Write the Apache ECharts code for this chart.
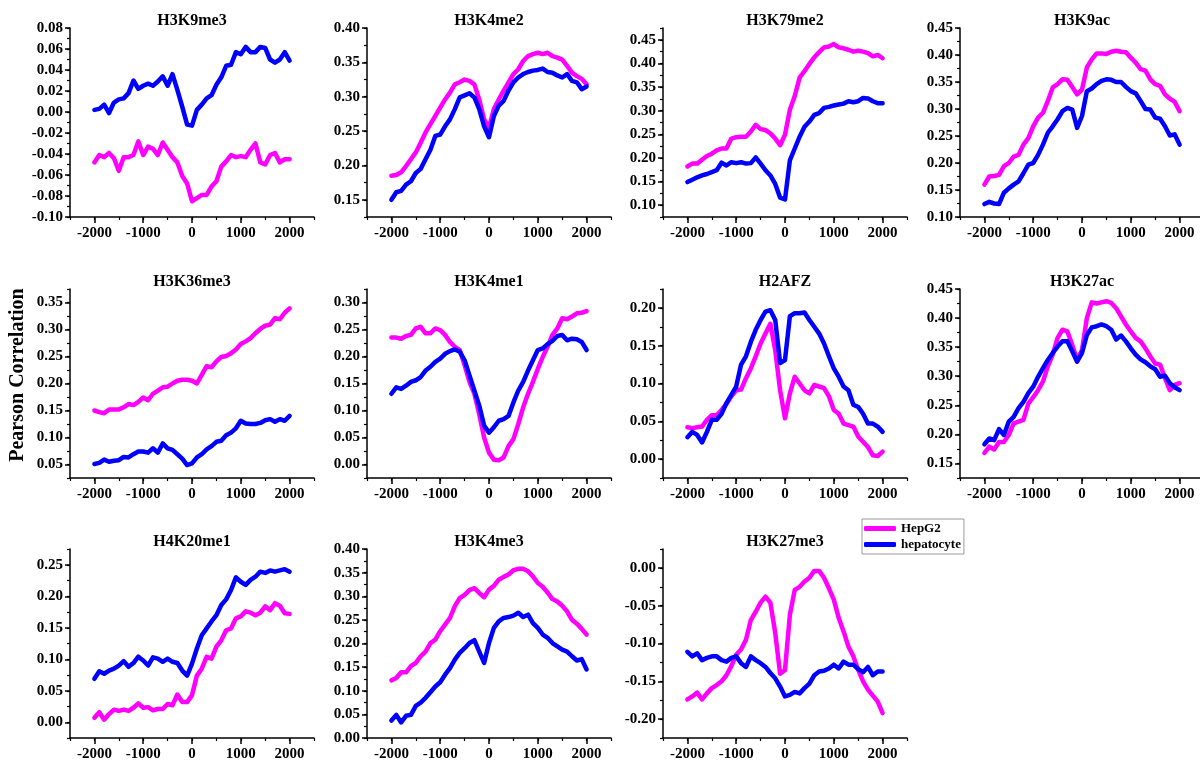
<!DOCTYPE html>
<html>
<head>
<meta charset="utf-8">
<title>Pearson Correlation profiles</title>
<script src="https://cdn.jsdelivr.net/npm/echarts@6/dist/echarts.min.js"></script>
<style>
  html, body { margin: 0; padding: 0; background: #fff; }
  #chart { width: 1200px; height: 760px; }
</style>
</head>
<body>
<div id="chart"></div>
<script>
// distance to TSS (bp)
const xs = [-2000,-1900,-1800,-1700,-1600,-1500,-1400,-1300,-1200,-1100,-1000,-900,-800,-700,-600,-500,-400,-300,-200,-100,
  0,100,200,300,400,500,600,700,800,900,1000,1100,1200,1300,1400,1500,1600,1700,1800,1900,2000]

const panelNames = ['H3K9me3','H3K4me2','H3K79me2','H3K9ac','H3K36me3','H3K4me1','H2AFZ','H3K27ac','H4K20me1','H3K4me3','H3K27me3']
const yMins = [-0.10, 0.125, 0.075, 0.10, 0.025, -0.025, -0.025, 0.125, -0.025, 0.00, -0.225]
const yMaxs = [0.08, 0.40, 0.475, 0.45, 0.375, 0.325, 0.225, 0.45, 0.275, 0.40, 0.025]
const yMajorSteps = [0.02, 0.05, 0.05, 0.05, 0.05, 0.05, 0.05, 0.05, 0.05, 0.05, 0.05]
const yMinorSteps = [0.01, 0.025, 0.025, 0.025, 0.025, 0.025, 0.025, 0.025, 0.025, 0.025, 0.025]
const xTickLabels = [-2000, -1000, 0, 1000, 2000]

// HepG2
const hepg2_H3K9me3 = [-0.048,-0.041,-0.043,-0.039,-0.044,-0.056,-0.043,-0.043,-0.041,-0.028,-0.041,-0.033,-0.035,-0.041,-0.029,-0.036,-0.043,-0.048,-0.061,-0.068,
  -0.085,-0.082,-0.079,-0.079,-0.071,-0.066,-0.052,-0.047,-0.041,-0.043,-0.042,-0.043,-0.036,-0.030,-0.048,-0.050,-0.041,-0.039,-0.048,-0.045,-0.045]
const hepg2_H3K4me2 = [0.185,0.186,0.190,0.199,0.209,0.219,0.233,0.248,0.260,0.272,0.284,0.296,0.306,0.318,0.321,0.325,0.323,0.318,0.296,0.267,
  0.255,0.282,0.296,0.309,0.321,0.333,0.340,0.352,0.359,0.362,0.364,0.362,0.364,0.359,0.357,0.354,0.345,0.335,0.330,0.326,0.318]
const hepg2_H3K79me2 = [0.182,0.188,0.188,0.196,0.204,0.209,0.216,0.220,0.220,0.241,0.244,0.245,0.245,0.256,0.270,0.261,0.259,0.252,0.241,0.227,
  0.249,0.302,0.331,0.370,0.384,0.399,0.413,0.424,0.434,0.436,0.441,0.434,0.432,0.429,0.425,0.427,0.425,0.422,0.415,0.418,0.411]
const hepg2_H3K9ac = [0.160,0.175,0.176,0.178,0.194,0.200,0.212,0.215,0.234,0.246,0.268,0.284,0.293,0.315,0.340,0.346,0.355,0.354,0.341,0.327,
  0.336,0.377,0.392,0.403,0.403,0.402,0.406,0.408,0.406,0.405,0.395,0.386,0.374,0.371,0.355,0.346,0.343,0.327,0.319,0.313,0.296]
const hepg2_H3K36me3 = [0.150,0.147,0.145,0.152,0.152,0.152,0.156,0.162,0.160,0.166,0.174,0.169,0.181,0.187,0.193,0.194,0.200,0.205,0.207,0.207,
  0.205,0.200,0.216,0.232,0.230,0.241,0.249,0.251,0.256,0.263,0.273,0.278,0.284,0.293,0.301,0.307,0.309,0.321,0.319,0.331,0.339]
const hepg2_H3K4me1 = [0.235,0.235,0.233,0.238,0.240,0.252,0.255,0.243,0.243,0.252,0.249,0.240,0.227,0.218,0.212,0.184,0.153,0.131,0.093,0.050,
  0.022,0.009,0.008,0.013,0.034,0.047,0.075,0.106,0.131,0.153,0.177,0.199,0.218,0.240,0.252,0.271,0.269,0.274,0.280,0.281,0.284]
const hepg2_H2AFZ = [0.042,0.041,0.042,0.043,0.052,0.058,0.058,0.065,0.073,0.083,0.091,0.092,0.107,0.120,0.136,0.153,0.166,0.179,0.144,0.091,
  0.054,0.087,0.109,0.100,0.091,0.087,0.098,0.096,0.094,0.083,0.065,0.060,0.047,0.045,0.043,0.030,0.023,0.016,0.005,0.004,0.010]
const hepg2_H3K27ac = [0.168,0.179,0.174,0.187,0.187,0.199,0.219,0.222,0.225,0.253,0.264,0.276,0.291,0.317,0.337,0.366,0.380,0.377,0.354,0.328,
  0.345,0.400,0.427,0.425,0.427,0.429,0.426,0.417,0.403,0.389,0.377,0.366,0.360,0.348,0.334,0.322,0.320,0.297,0.276,0.285,0.288]
const hepg2_H4K20me1 = [0.007,0.016,0.004,0.013,0.020,0.018,0.020,0.018,0.023,0.030,0.023,0.024,0.019,0.021,0.021,0.029,0.027,0.044,0.032,0.032,
  0.043,0.074,0.085,0.104,0.101,0.120,0.130,0.146,0.149,0.165,0.168,0.176,0.174,0.170,0.174,0.184,0.178,0.189,0.185,0.173,0.172]
const hepg2_H3K4me3 = [0.122,0.127,0.139,0.139,0.152,0.159,0.173,0.183,0.201,0.208,0.226,0.240,0.254,0.279,0.296,0.303,0.313,0.317,0.307,0.298,
  0.314,0.322,0.335,0.341,0.346,0.355,0.358,0.358,0.353,0.342,0.328,0.320,0.308,0.294,0.289,0.280,0.268,0.250,0.242,0.231,0.219]
const hepg2_H3K27me3 = [-0.174,-0.170,-0.165,-0.174,-0.166,-0.159,-0.155,-0.150,-0.142,-0.130,-0.115,-0.108,-0.095,-0.069,-0.058,-0.046,-0.038,-0.046,-0.086,-0.140,
  -0.135,-0.062,-0.029,-0.025,-0.018,-0.013,-0.004,-0.004,-0.013,-0.027,-0.042,-0.066,-0.084,-0.104,-0.117,-0.135,-0.150,-0.161,-0.169,-0.177,-0.192]

// hepatocyte
const hep_H3K9me3 = [0.002,0.003,0.007,-0.001,0.009,0.012,0.013,0.018,0.030,0.022,0.025,0.027,0.025,0.029,0.034,0.025,0.036,0.021,0.005,-0.012,
  -0.013,0.002,0.007,0.013,0.016,0.026,0.033,0.044,0.045,0.057,0.055,0.062,0.057,0.057,0.062,0.061,0.050,0.047,0.050,0.057,0.049]
const hep_H3K4me2 = [0.150,0.161,0.163,0.172,0.177,0.189,0.195,0.209,0.223,0.243,0.245,0.257,0.267,0.282,0.299,0.302,0.305,0.299,0.282,0.257,
  0.241,0.272,0.287,0.294,0.309,0.321,0.328,0.333,0.336,0.338,0.339,0.341,0.336,0.335,0.331,0.328,0.333,0.323,0.321,0.311,0.315]
const hep_H3K79me2 = [0.149,0.154,0.159,0.163,0.166,0.170,0.174,0.190,0.184,0.191,0.189,0.191,0.188,0.189,0.201,0.188,0.174,0.163,0.145,0.116,
  0.112,0.195,0.220,0.245,0.266,0.277,0.291,0.295,0.306,0.308,0.311,0.313,0.315,0.320,0.318,0.320,0.327,0.326,0.320,0.316,0.316]
const hep_H3K9ac = [0.124,0.128,0.125,0.124,0.145,0.153,0.160,0.166,0.181,0.197,0.200,0.215,0.234,0.256,0.268,0.281,0.296,0.302,0.299,0.265,
  0.287,0.333,0.338,0.346,0.352,0.355,0.354,0.350,0.350,0.341,0.333,0.329,0.315,0.300,0.299,0.284,0.282,0.268,0.251,0.253,0.234]
const hep_H3K36me3 = [0.051,0.053,0.059,0.055,0.057,0.058,0.064,0.063,0.069,0.074,0.074,0.072,0.080,0.072,0.089,0.080,0.077,0.069,0.061,0.049,
  0.052,0.063,0.069,0.078,0.084,0.092,0.094,0.104,0.109,0.117,0.131,0.126,0.125,0.125,0.127,0.132,0.134,0.129,0.134,0.131,0.140]
const hep_H3K4me1 = [0.131,0.143,0.140,0.146,0.153,0.156,0.162,0.174,0.181,0.190,0.196,0.205,0.210,0.213,0.209,0.193,0.165,0.137,0.109,0.072,
  0.059,0.069,0.081,0.084,0.090,0.115,0.137,0.153,0.174,0.193,0.212,0.215,0.223,0.229,0.238,0.240,0.230,0.233,0.232,0.227,0.212]
const hep_H2AFZ = [0.029,0.036,0.032,0.022,0.036,0.052,0.052,0.060,0.074,0.085,0.096,0.125,0.136,0.155,0.171,0.184,0.195,0.197,0.184,0.127,
  0.131,0.189,0.193,0.193,0.194,0.184,0.175,0.166,0.153,0.136,0.120,0.109,0.096,0.091,0.072,0.069,0.060,0.047,0.047,0.043,0.036]
const hep_H3K27ac = [0.183,0.193,0.190,0.209,0.199,0.222,0.230,0.245,0.256,0.271,0.282,0.299,0.314,0.328,0.340,0.351,0.360,0.360,0.343,0.325,
  0.340,0.371,0.384,0.386,0.389,0.386,0.380,0.363,0.370,0.360,0.348,0.337,0.329,0.324,0.317,0.312,0.299,0.301,0.288,0.281,0.276]
const hep_H4K20me1 = [0.069,0.081,0.077,0.082,0.085,0.090,0.097,0.088,0.094,0.104,0.098,0.090,0.103,0.101,0.096,0.101,0.096,0.094,0.082,0.074,
  0.093,0.117,0.138,0.149,0.160,0.170,0.186,0.195,0.210,0.230,0.223,0.218,0.226,0.231,0.239,0.237,0.241,0.239,0.241,0.243,0.239]
const hep_H3K4me3 = [0.037,0.049,0.033,0.047,0.049,0.068,0.075,0.085,0.097,0.109,0.118,0.134,0.148,0.166,0.180,0.190,0.201,0.207,0.183,0.159,
  0.201,0.233,0.247,0.254,0.256,0.259,0.265,0.256,0.261,0.243,0.233,0.219,0.212,0.201,0.194,0.187,0.183,0.173,0.164,0.167,0.145]
const hep_H3K27me3 = [-0.111,-0.117,-0.113,-0.122,-0.119,-0.117,-0.117,-0.122,-0.124,-0.119,-0.117,-0.126,-0.131,-0.117,-0.122,-0.126,-0.131,-0.139,-0.146,-0.157,
  -0.170,-0.168,-0.164,-0.166,-0.159,-0.153,-0.142,-0.137,-0.136,-0.133,-0.128,-0.133,-0.124,-0.128,-0.128,-0.134,-0.138,-0.131,-0.142,-0.137,-0.137]

const hepg2Data = [hepg2_H3K9me3, hepg2_H3K4me2, hepg2_H3K79me2, hepg2_H3K9ac, hepg2_H3K36me3, hepg2_H3K4me1,
  hepg2_H2AFZ, hepg2_H3K27ac, hepg2_H4K20me1, hepg2_H3K4me3, hepg2_H3K27me3]
const hepData = [hep_H3K9me3, hep_H3K4me2, hep_H3K79me2, hep_H3K9ac, hep_H3K36me3, hep_H3K4me1,
  hep_H2AFZ, hep_H3K27ac, hep_H4K20me1, hep_H3K4me3, hep_H3K27me3]

const FONT = 'Liberation Serif, Times New Roman, serif'
const gridLefts = [70, 367, 663, 960]
const gridTops = [28, 289, 549]
const gridW = 244
const gridH = 189

const chart = echarts.init(document.getElementById('chart'))

let grids = [], xAxes = [], yAxes = [], series = [], titles = []

function rnd(v) { return Math.round(v * 10000) / 10000 }

panelNames.forEach((name, i) => {
  const left = gridLefts[i % 4]
  const top = gridTops[Math.floor(i / 4)]
  grids.push({ left: left, top: top, width: gridW, height: gridH, outerBoundsMode: 'none' })
  titles.push({
    text: name, left: left + gridW / 2, top: top - 15, textAlign: 'center', padding: 0,
    textStyle: { fontFamily: FONT, fontWeight: 'bold', fontSize: 16, color: '#000' }
  })

  // y major ticks
  let majors = []
  const st = yMajorSteps[i]
  for (let v = Math.ceil(rnd(yMins[i] / st)) * st; v <= yMaxs[i] + 1e-9; v += st) majors.push(rnd(v))

  // major axes (labels + long ticks)
  xAxes.push({
    type: 'value', gridIndex: i, position: 'bottom', min: -2500, max: 2500,
    axisLine: { show: true, onZero: false, lineStyle: { color: '#000', width: 1.5 } },
    axisTick: { show: true, customValues: xTickLabels, length: 6, lineStyle: { color: '#000', width: 1.5 } },
    axisLabel: { customValues: xTickLabels, margin: 9, formatter: v => String(v),
      fontFamily: FONT, fontWeight: 'bold', fontSize: 15, color: '#000' },
    splitLine: { show: false }
  })
  yAxes.push({
    type: 'value', gridIndex: i, position: 'left', min: yMins[i], max: yMaxs[i],
    axisLine: { show: true, onZero: false, lineStyle: { color: '#000', width: 1.5 } },
    axisTick: { show: true, customValues: majors, length: 5, lineStyle: { color: '#000', width: 1.5 } },
    axisLabel: { customValues: majors, margin: 7, formatter: v => v.toFixed(2),
      fontFamily: FONT, fontWeight: 'bold', fontSize: 15, color: '#000' },
    splitLine: { show: false }
  })
  // minor tick axes, drawn over the major ones
  xAxes.push({
    type: 'value', gridIndex: i, position: 'bottom', offset: 0, min: -2500, max: 2500, interval: 500,
    axisLine: { show: false, onZero: false }, axisLabel: { show: false }, splitLine: { show: false },
    axisTick: { show: true, length: 3, lineStyle: { color: '#000', width: 1.2 } }
  })
  yAxes.push({
    type: 'value', gridIndex: i, position: 'left', offset: 0, min: yMins[i], max: yMaxs[i], interval: yMinorSteps[i],
    axisLine: { show: false, onZero: false }, axisLabel: { show: false }, splitLine: { show: false },
    axisTick: { show: true, length: 3, lineStyle: { color: '#000', width: 1.2 } }
  })

  const lineBase = { type: 'line', xAxisIndex: 2 * i, yAxisIndex: 2 * i, showSymbol: false, symbol: 'none',
    silent: true, animation: false }
  series.push(Object.assign({}, lineBase, {
    name: 'HepG2', data: xs.map((x, k) => [x, hepg2Data[i][k]]),
    itemStyle: { color: '#ff00ff' }, lineStyle: { color: '#ff00ff', width: 4.5, cap: 'round', join: 'round' }
  }))
  series.push(Object.assign({}, lineBase, {
    name: 'hepatocyte', data: xs.map((x, k) => [x, hepData[i][k]]),
    itemStyle: { color: '#0000ff' }, lineStyle: { color: '#0000ff', width: 4.5, cap: 'round', join: 'round' }
  }))
})

chart.setOption({
  backgroundColor: '#fff',
  animation: false,
  title: titles,
  grid: grids,
  xAxis: xAxes,
  yAxis: yAxes,
  series: series,
  legend: {
    data: ['HepG2', 'hepatocyte'],
    orient: 'vertical', left: 862, top: 519,
    icon: 'roundRect', itemWidth: 32, itemHeight: 5, itemGap: 3,
    padding: [3, 3, 3, 2],
    borderColor: '#999', borderWidth: 1,
    textStyle: { fontFamily: FONT, fontWeight: 'bold', fontSize: 13, color: '#000' },
    selectedMode: false
  },
  graphic: [{
    type: 'text', x: 18, y: 375, rotation: Math.PI / 2,
    style: { text: 'Pearson Correlation', fontFamily: FONT, fontWeight: 'bold', fontSize: 20,
      fill: '#000', align: 'center', verticalAlign: 'middle' }
  }]
})
</script>
</body>
</html>
